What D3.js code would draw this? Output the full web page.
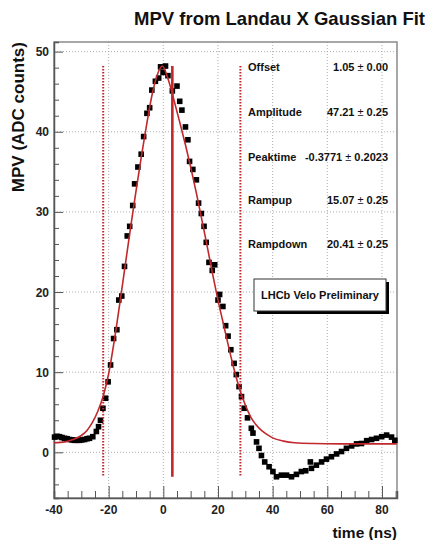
<!DOCTYPE html>
<html>
<head>
<meta charset="utf-8">
<script src="https://cdn.jsdelivr.net/npm/d3@7"></script>
<style>
  body { margin: 0; background: #fff; }
  text { font-family: "Liberation Sans", Arial, Helvetica, sans-serif; }
  .grid line { stroke: #999; stroke-width: 0.8; stroke-dasharray: 1,2; }
</style>
</head>
<body>
<div id="chart"></div>
<script>
// measured points (time in ns, MPV in ADC counts)
var timeNs = [-39.8,-38.9,-38.0,-37.1,-36.2,-35.2,-34.3,-33.4,-32.5,-31.6,-30.7,-29.8,-28.8,-27.9,-27.0,-25.8,
  -24.5,-23.7,-23.0,-22.1,-21.1,-20.2,-19.3,-18.2,-17.0,-16.3,-15.2,-14.2,-13.2,-12.3,-11.2,-10.5,-9.3,-8.1,
  -7.2,-6.0,-5.0,-4.2,-2.9,-1.7,-1.0,-0.1,0.8,1.7,3.3,5.0,6.0,6.8,8.1,9.0,9.6,10.8,12.1,12.9,13.9,14.9,15.7,
  16.7,17.9,18.8,20.0,20.6,21.8,22.8,23.7,24.7,25.9,26.7,27.7,28.6,29.6,30.8,32.2,32.8,34.1,35.0,35.9,37.1,
  38.7,40.1,41.4,43.2,45.1,46.9,48.7,50.5,52.1,53.8,54.2,56.0,57.9,59.7,61.5,63.4,65.2,67.0,68.9,70.7,72.5,
  74.4,76.2,78.0,79.9,81.7,83.5,84.7];
var mpv = [1.9,2.0,1.95,1.85,1.75,1.7,1.6,1.55,1.5,1.5,1.5,1.55,1.6,1.7,1.75,1.95,
  2.6,3.2,4.0,5.5,6.75,8.8,10.9,14.2,15.3,19.0,19.5,23.2,27.0,28.2,30.8,33.5,35.6,37.2,
  39.4,42.3,43.0,45.2,46.3,46.7,48.1,47.4,48.2,47.0,45.1,45.7,43.8,42.7,40.6,39.0,36.3,35.3,34.0,31.1,29.8,28.2,26.2,
  23.7,22.7,23.4,19.0,19.7,18.2,15.8,14.5,12.8,11.1,9.7,8.2,6.95,5.5,4.3,3.0,2.4,1.3,0.5,-0.4,-1.2,
  -1.8,-2.4,-3.05,-2.85,-2.85,-3.05,-2.75,-2.4,-2.3,-1.2,-2.0,-1.6,-1.2,-0.85,-0.55,-0.2,0.1,0.5,0.8,1.05,1.1,
  1.45,1.6,1.75,1.95,2.15,1.9,1.5];

// fitted curve
var fitT   = [-40,-36,-33,-30,-28,-26,-24,-22,-20,-18,-16,-14,-12,-10,-8,-6,-4,-2,-0.4,
  2,4,6,8,10,12,14,16,18,20,22,24,26,28,30,32,34,36,38,40,44,48,55,65,85.4];
var fitMpv = [1.2,1.3,1.6,2.1,2.7,3.7,5.1,7.0,9.8,13.8,18.4,23.2,28.0,32.6,37.0,41.1,44.8,47.3,48.2,
  46.3,43.8,41.2,38.5,35.6,32.5,29.2,25.8,22.3,19.0,16.0,13.0,10.2,7.8,5.9,4.4,3.4,2.7,2.2,1.8,1.4,1.2,1.1,1.06,1.05];

// vertical markers
var markerT = [-22, 3.3, 28.2];
var markerStyle = ["dot", "solid", "dot"];
var markerRange = [-3.05, 48.2];

var xTicks = [-40, -20, 0, 20, 40, 60, 80];
var yTicks = [0, 10, 20, 30, 40, 50];

var parNames = ["Offset", "Amplitude", "Peaktime", "Rampup", "Rampdown"];
var parValues = ["1.05", "47.21", "-0.3771", "15.07", "20.41"];
var parErrors = ["0.00", "0.25", "0.2023", "0.25", "0.25"];

var W = 426, H = 540;
var padL = 54, padR = 397, padT = 42, padB = 498;
var red = "#c0282c";

var svg = d3.select("#chart").append("svg")
    .attr("width", W)
    .attr("height", H);

var x = d3.scaleLinear().domain([-40, 85.5]).range([padL, padR]);
var y = d3.scaleLinear().domain([-5.7, 51.2]).range([padB, padT]);

// grid
var grid = svg.append("g").attr("class", "grid");
grid.selectAll(".gx").data(xTicks.filter(function(d){ return d > -40; }))
  .enter().append("line")
    .attr("x1", function(d){ return x(d); }).attr("x2", function(d){ return x(d); })
    .attr("y1", padT).attr("y2", padB);
grid.selectAll(".gy").data(yTicks)
  .enter().append("line")
    .attr("y1", function(d){ return y(d); }).attr("y2", function(d){ return y(d); })
    .attr("x1", padL).attr("x2", padR);

// frame
svg.append("rect")
  .attr("x", padL).attr("y", padT)
  .attr("width", padR - padL).attr("height", padB - padT)
  .attr("fill", "none").attr("stroke", "#8a8a8a").attr("stroke-width", 1.5);

// axes (ticks inside, like ROOT)
var xAxis = d3.axisTop(x).tickValues(d3.range(-40, 86, 5)).tickSize(7).tickFormat("");
var gx = svg.append("g").attr("transform", "translate(0," + padB + ")").call(xAxis);
gx.selectAll(".tick line").filter(function(d){ return d % 20 === 0; }).attr("y2", -12);
gx.select(".domain").attr("stroke", "#555").attr("stroke-width", 1.5);
gx.selectAll(".tick line").attr("stroke", "#555");

var yAxis = d3.axisRight(y).tickValues(d3.range(-4, 51, 2)).tickSize(5).tickFormat("");
var gy = svg.append("g").attr("transform", "translate(" + padL + ",0)").call(yAxis);
gy.selectAll(".tick line").filter(function(d){ return d % 10 === 0; }).attr("x2", 9);
gy.select(".domain").attr("stroke", "#555").attr("stroke-width", 1.5);
gy.selectAll(".tick line").attr("stroke", "#555");

// tick labels
svg.selectAll(".xl").data(xTicks).enter().append("text")
  .attr("x", function(d){ return x(d); }).attr("y", 514)
  .attr("text-anchor", "middle").attr("font-size", 12).attr("font-weight", "bold")
  .attr("fill", "#222")
  .text(function(d){ return d; });
svg.selectAll(".yl").data(yTicks).enter().append("text")
  .attr("x", 49).attr("y", function(d){ return y(d) + 4.5; })
  .attr("text-anchor", "end").attr("font-size", 12).attr("font-weight", "bold")
  .attr("fill", "#222")
  .text(function(d){ return d; });

// data points
var pts = d3.range(timeNs.length);
svg.selectAll(".pt").data(pts).enter().append("rect")
  .attr("x", function(i){ return x(timeNs[i]) - 2.8; })
  .attr("y", function(i){ return y(mpv[i]) - 2.8; })
  .attr("width", 5.6).attr("height", 5.6)
  .attr("fill", "#000");

// fit curve
var line = d3.line()
  .x(function(i){ return x(fitT[i]); })
  .y(function(i){ return y(fitMpv[i]); })
  .curve(d3.curveMonotoneX);
svg.append("path")
  .attr("d", line(d3.range(fitT.length)))
  .attr("fill", "none").attr("stroke", red).attr("stroke-width", 1.6);

// vertical markers
svg.selectAll(".mk").data(markerT).enter().append("line")
  .attr("x1", function(d){ return x(d); }).attr("x2", function(d){ return x(d); })
  .attr("y1", y(markerRange[1])).attr("y2", y(markerRange[0]))
  .attr("stroke", red)
  .attr("stroke-width", function(d, i){ return markerStyle[i] === "solid" ? 2.6 : 2; })
  .attr("stroke-dasharray", function(d, i){ return markerStyle[i] === "solid" ? null : "1.5,1.5"; });

// fit parameters
var rowY = [71, 116, 161, 204, 248];
parNames.forEach(function(n, i){
  svg.append("text").attr("x", 248).attr("y", rowY[i])
    .attr("font-size", 11).attr("font-weight", "bold").attr("fill", "#111")
    .text(n);
  var t = svg.append("text").attr("x", 388).attr("y", rowY[i])
    .attr("text-anchor", "end").attr("font-size", 11).attr("font-weight", "bold").attr("fill", "#111");
  t.append("tspan").text(parValues[i] + " ");
  t.append("tspan").attr("font-weight", "normal").text("\u00b1");
  t.append("tspan").text(" " + parErrors[i]);
});

// LHCb label box with shadow
svg.append("rect").attr("x", 257).attr("y", 282).attr("width", 132).attr("height", 32).attr("fill", "#000");
svg.append("rect").attr("x", 254).attr("y", 279).attr("width", 132).attr("height", 32)
  .attr("fill", "#fff").attr("stroke", "#333").attr("stroke-width", 1);
svg.append("text").attr("x", 320).attr("y", 299)
  .attr("text-anchor", "middle").attr("font-size", 11).attr("font-weight", "bold").attr("fill", "#111")
  .text("LHCb Velo Preliminary");

// titles
svg.append("text").attr("x", 425).attr("y", 25)
  .attr("text-anchor", "end").attr("font-size", 18.5).attr("font-weight", "bold").attr("fill", "#111")
  .text("MPV from Landau X Gaussian Fit");
svg.append("text").attr("x", 397).attr("y", 538)
  .attr("text-anchor", "end").attr("font-size", 15.5).attr("font-weight", "bold").attr("fill", "#111")
  .text("time (ns)");
svg.append("text")
  .attr("transform", "translate(24,42) rotate(-90)")
  .attr("text-anchor", "end").attr("font-size", 17).attr("font-weight", "bold").attr("fill", "#111")
  .text("MPV (ADC counts)");
</script>
</body>
</html>
